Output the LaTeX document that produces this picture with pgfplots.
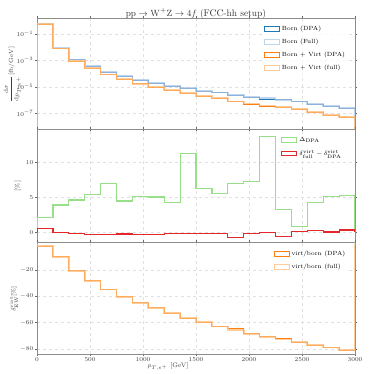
\documentclass[border=0pt]{standalone}
\usepackage{pgfplots}
\pgfplotsset{compat=1.18}
\usepackage{pgfplotstable}

\definecolor{borndpa}{HTML}{1F77B4}
\definecolor{bornfull}{HTML}{AEC7E8}
\definecolor{virtdpa}{HTML}{FF7F0E}
\definecolor{virtfull}{HTML}{FFBB78}
\definecolor{tabgreen}{HTML}{98DF8A}
\definecolor{tabred}{RGB}{228,40,42}

% dsigma/dpT per 150 GeV bin (left edges), closing rows drawn to the baseline
\pgfplotstableread{
x     bd        bf        vd        vf
0     1e-10     1e-10     1e-10     1e-10
0     5.63e-1   5.75e-1   5.52e-1   5.66e-1
150   8.37e-3   8.71e-3   7.54e-3   7.85e-3
300   1.12e-3   1.17e-3   8.93e-4   9.30e-4
450   3.52e-4   3.72e-4   2.54e-4   2.67e-4
600   1.26e-4   1.35e-4   8.26e-5   8.82e-5
750   6.46e-5   6.76e-5   3.87e-5   4.04e-5
900   3.00e-5   3.16e-5   1.67e-5   1.74e-5
1050  1.77e-5   1.86e-5   9.06e-6   9.47e-6
1200  1.12e-5   1.17e-5   5.29e-6   5.51e-6
1350  7.38e-6   8.32e-6   3.21e-6   3.60e-6
1500  4.59e-6   4.90e-6   1.86e-6   1.97e-6
1650  3.51e-6   3.72e-6   1.30e-6   1.38e-6
1800  2.13e-6   2.29e-6   7.51e-7   7.90e-7
1950  1.58e-6   1.70e-6   5.01e-7   5.37e-7
2100  1.16e-6   1.35e-6   3.42e-7   3.97e-7
2250  1.04e-6   1.07e-6   2.90e-7   2.92e-7
2400  7.88e-7   7.94e-7   1.97e-7   1.99e-7
2550  5.02e-7   5.25e-7   1.13e-7   1.20e-7
2700  3.53e-7   3.72e-7   7.43e-8   7.85e-8
2850  2.49e-7   2.63e-7   4.77e-8   5.13e-8
3000  2.49e-7   2.63e-7   4.77e-8   5.13e-8
3000  1e-10     1e-10     1e-10     1e-10
}\xsec

\pgfplotstableread{
x     dpa     diff
0     0       0
0     2.15    0.53
150   3.92    0.00
300   4.64   -0.20
450   5.45   -0.33
600   7.03   -0.29
750   4.50   -0.24
900   5.17   -0.33
1050  5.07   -0.30
1200  4.31   -0.14
1350  11.3   -0.14
1500  6.27   -0.14
1650  5.60   -0.14
1800  7.03   -0.77
1950  7.32   -0.14
2100  13.8   -0.05
2250  3.25   -0.62
2400  0.81    0.10
2550  4.31    0.29
2700  5.12    0.05
2850  5.26    0.33
3000  5.26    0.33
3000  0       0
}\diffs

\pgfplotstableread{
x     dd       df
0     0        0
0    -2.03    -1.5
150  -9.9     -9.9
300  -20.3    -20.5
450  -27.8    -28.1
600  -34.4    -34.7
750  -40.1    -40.3
900  -44.5    -44.8
1050 -48.8    -49.1
1200 -52.8    -52.9
1350 -56.6    -56.7
1500 -59.6    -59.7
1650 -62.9    -63.0
1800 -64.7    -65.5
1950 -68.3    -68.4
2100 -70.6    -70.6
2250 -72.1    -72.7
2400 -75.0    -74.9
2550 -77.5    -77.2
2700 -79.0    -78.9
2850 -80.8    -80.5
3000 -80.8    -80.5
3000  0        0
}\ratio

\pgfplotsset{
  panel/.style={
    scale only axis,
    width=318pt,
    xmin=0, xmax=3000,
    xtick={0,500,1000,1500,2000,2500,3000},
    /pgf/number format/1000 sep={},
    grid=major,
    grid style={dashed, black!12, line width=0.4pt},
    axis line style={black!45, line width=0.8pt},
    tick style={black!60, line width=0.5pt},
    major tick length=2pt,
    tick align=outside,
    ytick pos=both,
    tick label style={font=\fontsize{6.3}{7}\selectfont, text=black!75, inner sep=1.5pt},
    legend cell align=left,
    legend style={font=\fontsize{6}{7}\selectfont, draw=none, fill=white,
      fill opacity=0.8, text opacity=1, anchor=north west,
      row sep=3pt, inner sep=1pt},
    legend image code/.code={\draw[#1, line width=1pt] (0pt,-2.3pt) rectangle (15pt,2.3pt);},
    every axis plot/.append style={const plot mark left, line join=miter},
  },
  dpa/.style={draw=#1, line width=0.9pt},
  full/.style={draw=#1, line width=1.7pt, opacity=0.75},
  single/.style={draw=#1, line width=1.2pt},
}

\begin{document}
\begin{tikzpicture}
\useasboundingbox (0pt,0pt) rectangle (374pt,374pt);

% top panel: cross sections
\begin{axis}[
    panel,
    at={(37pt,244.5pt)}, anchor=south west,
    height=111.2pt,
    ymode=log,
    ymin=5.9e-9, ymax=1.55,
    ytick={1e-1,1e-3,1e-5,1e-7},
    minor ytick={},
    xticklabels={},
    legend style={at={(0.71,0.96)}},
]
\addplot[dpa=borndpa] table[x=x, y=bd] {\xsec};
\addlegendentry{Born (DPA)}
\addplot[full=bornfull] table[x=x, y=bf] {\xsec};
\addlegendentry{Born (Full)}
\addplot[dpa=virtdpa] table[x=x, y=vd] {\xsec};
\addlegendentry{Born + Virt (DPA)}
\addplot[full=virtfull] table[x=x, y=vf] {\xsec};
\addlegendentry{Born + Virt (full)}
\end{axis}

% middle panel: differences in percent
\begin{axis}[
    panel,
    at={(37pt,131.5pt)}, anchor=south west,
    height=113pt,
    ymin=-1.47, ymax=14.77,
    ytick={0,5,10},
    xticklabels={},
    legend style={at={(0.765,0.96)}},
]
\addplot[single=tabgreen] table[x=x, y=dpa] {\diffs};
\addlegendentry{$\Delta_{\mathrm{DPA}}$}
\addplot[single=tabred] table[x=x, y=diff] {\diffs};
\addlegendentry{$\delta^{\mathrm{virt}}_{\mathrm{full}}-\delta^{\mathrm{virt}}_{\mathrm{DPA}}$}
\end{axis}

% bottom panel: virtual corrections
\begin{axis}[
    panel,
    at={(37pt,19.7pt)}, anchor=south west,
    height=111.8pt,
    ymin=-84, ymax=0.9,
    ytick={-80,-60,-40,-20},
    legend style={at={(0.74,0.955)}},
]
\addplot[dpa=virtdpa] table[x=x, y=dd] {\ratio};
\addlegendentry{virt/born (DPA)}
\addplot[full=virtfull] table[x=x, y=df] {\ratio};
\addlegendentry{virt/born (full)}
\end{axis}

\node[font=\fontsize{9.5}{11}\selectfont, text=black!80] at (196pt,360.5pt)
  {$\mathrm{pp}\to\mathrm{W}^{+}\mathrm{Z}\to 4f$ (FCC-hh setup)};
\node[font=\fontsize{6.5}{8}\selectfont, text=black!75] at (168pt,7.5pt)
  {$p_{T,e^{+}}$ [GeV]};
\node[rotate=90, font=\fontsize{6}{7}\selectfont, text=black!75] at (13pt,299.5pt)
  {$\displaystyle\frac{\mathrm{d}\sigma}{\mathrm{d}p_{T,e^{+}}}[\mathrm{fb/GeV}]$};
\node[rotate=90, font=\fontsize{6.5}{8}\selectfont, text=black!75] at (18pt,188pt)
  {[\%]};
\node[rotate=90, font=\fontsize{6.5}{8}\selectfont, text=black!75] at (14pt,75pt)
  {$\delta^{\mathrm{virt}}_{\mathrm{EW}}[\%]$};
\end{tikzpicture}
\end{document}
